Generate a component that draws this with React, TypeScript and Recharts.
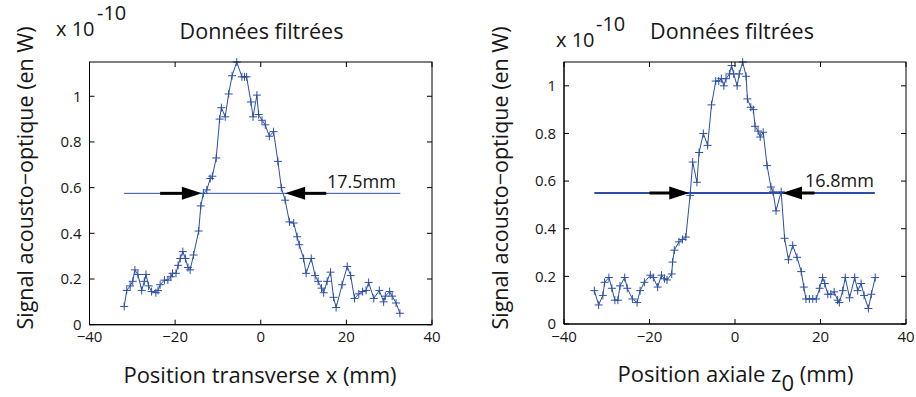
import React from 'react';
import { ComposedChart, Line, XAxis, YAxis, ReferenceLine, ReferenceDot } from 'recharts';

const BLUE = '#2c4fa5';
const FONT = '"Open Sans", "Noto Sans", sans-serif';
const TXT = '#161616';

const xTicks = [-40, -20, 0, 20, 40];
const yTicks = [0, 0.2, 0.4, 0.6, 0.8, 1];
const xDomain = [-40, 40];

const leftX = [-31.9, -31.3, -30.5, -29.9, -29.4, -28.7, -27.8, -27.2, -26.8, -26.2, -25.5, -24.5, -24.0, -23.5, -22.5, -21.7, -21.0, -20.6, -19.8, -19.3, -18.8, -18.2, -17.6, -17.0, -16.5, -15.7, -14.5, -14.0, -13.4, -12.6, -11.8, -11.3, -10.4, -9.6, -9.2, -8.3, -7.5, -6.7, -5.6, -4.4, -3.8, -3.3, -2.3, -1.8, -0.9, -0.5, 0.3, 1.05, 2.0, 3.0, 4.0, 4.8, 5.7, 6.7, 7.7, 8.5, 9.0, 10.0, 10.6, 11.8, 12.7, 13.4, 14.2, 14.7, 15.5, 16.3, 17.0, 17.6, 19.0, 20.2, 21.0, 21.9, 22.9, 23.8, 24.6, 25.2, 26.4, 27.7, 28.7, 29.1, 30.1, 30.7, 31.6, 32.5];
const leftY = [0.08, 0.15, 0.17, 0.19, 0.24, 0.22, 0.15, 0.19, 0.22, 0.17, 0.145, 0.14, 0.15, 0.175, 0.195, 0.195, 0.21, 0.225, 0.225, 0.26, 0.29, 0.32, 0.29, 0.25, 0.24, 0.305, 0.41, 0.52, 0.575, 0.59, 0.64, 0.65, 0.73, 0.9, 0.95, 0.91, 1.01, 1.09, 1.15, 1.085, 1.085, 1.085, 0.975, 0.91, 1.005, 0.92, 0.895, 0.875, 0.825, 0.845, 0.715, 0.6, 0.545, 0.45, 0.445, 0.385, 0.35, 0.29, 0.225, 0.29, 0.215, 0.19, 0.16, 0.14, 0.19, 0.23, 0.12, 0.075, 0.175, 0.255, 0.215, 0.115, 0.135, 0.145, 0.15, 0.185, 0.115, 0.15, 0.1, 0.125, 0.145, 0.125, 0.095, 0.05];

const rightX = [-32.9, -31.9, -30.9, -30.5, -29.5, -28.8, -28.1, -27.4, -26.9, -25.8, -25.2, -24.0, -22.9, -22.2, -21.2, -19.8, -19.1, -18.1, -17.2, -16.5, -15.9, -14.8, -14.6, -14.2, -13.1, -12.3, -11.5, -10.5, -9.9, -8.9, -8.4, -7.4, -6.4, -5.5, -4.5, -3.8, -3.2, -2.6, -2.1, -1.3, -0.8, -0.3, 0.5, 1.0, 1.8, 2.6, 2.9, 3.7, 4.3, 4.7, 5.4, 5.9, 6.6, 7.5, 8.4, 8.9, 9.6, 10.8, 11.6, 12.5, 13.5, 14.5, 15.5, 16.1, 16.6, 17.4, 18.2, 19.0, 19.8, 20.5, 21.0, 21.7, 22.4, 23.2, 24.0, 24.4, 25.2, 25.8, 26.8, 28.0, 28.7, 29.5, 30.2, 31.2, 31.9, 32.8];
const rightY = [0.14, 0.08, 0.12, 0.175, 0.195, 0.15, 0.1, 0.1, 0.16, 0.195, 0.15, 0.105, 0.09, 0.14, 0.175, 0.205, 0.195, 0.155, 0.205, 0.19, 0.185, 0.21, 0.26, 0.31, 0.345, 0.355, 0.365, 0.54, 0.68, 0.595, 0.72, 0.8, 0.75, 0.92, 1.02, 1.02, 1.03, 1.0, 1.03, 1.05, 1.085, 1.05, 1.0, 1.05, 1.1, 1.04, 0.945, 0.91, 0.9, 0.83, 0.81, 0.785, 0.805, 0.665, 0.575, 0.555, 0.475, 0.555, 0.36, 0.27, 0.33, 0.28, 0.22, 0.155, 0.105, 0.105, 0.105, 0.105, 0.15, 0.195, 0.17, 0.125, 0.125, 0.135, 0.1, 0.09, 0.14, 0.195, 0.11, 0.195, 0.14, 0.17, 0.12, 0.065, 0.125, 0.195];

// half-maximum level, line extent, arrows [tail, tip], width label
const leftLevel = 0.575;
const leftLineX = [-31.9, 32.6];
const leftArrowR = [-23.5, -13.75];
const leftArrowL = [15.3, 5.7];
const leftWidthLabel = '17.5mm';

const rightLevel = 0.55;
const rightLineX = [-32.9, 32.7];
const rightArrowR = [-20.0, -10.7];
const rightArrowL = [18.6, 11.0];
const rightWidthLabel = '16.8mm';

const titleText = 'Données filtrées';
const yLabelText = 'Signal acousto−optique (en W)';
const leftXLabel = 'Position transverse x (mm)';

const toPts = (xs: number[], ys: number[]) => xs.map((x, i) => ({ x, y: ys[i] }));
const fmtX = (v: number) => (v < 0 ? '−' + Math.abs(v) : String(v));

const PlusDot = (p: any) => {
  const { cx, cy } = p;
  if (cx == null || cy == null) return <g key={p.index} />;
  const s = 4;
  return (
    <path
      key={p.index}
      d={`M${cx - s},${cy}H${cx + s}M${cx},${cy - s}V${cy + s}`}
      stroke={BLUE}
      strokeWidth={1}
      fill="none"
    />
  );
};

const HEAD = 20;
const HALF = 6.5;
const headR = (p: any) => {
  const { cx, cy } = p;
  if (cx == null) return <g />;
  return <path d={`M${cx},${cy}L${cx - HEAD},${cy - HALF}L${cx - HEAD},${cy + HALF}Z`} fill="#000" />;
};
const headL = (p: any) => {
  const { cx, cy } = p;
  if (cx == null) return <g />;
  return <path d={`M${cx},${cy}L${cx + HEAD},${cy - HALF}L${cx + HEAD},${cy + HALF}Z`} fill="#000" />;
};

const TICK = 5;
const CHART_H = 397;
const TOP = 62;

type PanelProps = {
  left: number;
  width: number;
  yAxisWidth: number;
  rightMargin: number;
  xAxisHeight: number;
  yMax: number;
  xs: number[];
  ys: number[];
  level: number;
  lineX: number[];
  lineWidth: number;
  arrowR: number[];
  arrowL: number[];
};

const tickStyle = { fill: TXT, fontSize: 15, fontFamily: FONT };

// box with inward ticks (MATLAB style), laid out from the same panel geometry as the chart
const AxesBox = (pp: PanelProps) => {
  const l = pp.yAxisWidth;
  const r = pp.width - pp.rightMargin;
  const t = TOP;
  const b = CHART_H - pp.xAxisHeight;
  const [x0, x1] = xDomain;
  const px = (v: number) => l + ((v - x0) / (x1 - x0)) * (r - l);
  const py = (v: number) => b - (v / pp.yMax) * (b - t);
  let d = '';
  xTicks.forEach((v) => {
    const x = px(v);
    d += `M${x},${b}V${b - TICK}M${x},${t}V${t + TICK}`;
  });
  yTicks.forEach((v) => {
    const y = py(v);
    d += `M${l},${y}H${l + TICK}M${r},${y}H${r - TICK}`;
  });
  return (
    <svg
      width={pp.width}
      height={CHART_H}
      style={{ position: 'absolute', left: pp.left, top: 0, pointerEvents: 'none' }}
    >
      <rect x={l} y={t} width={r - l} height={b - t} fill="none" stroke="#000" strokeWidth={1} />
      <path d={d} stroke="#000" strokeWidth={1} fill="none" />
    </svg>
  );
};

const Panel = (pp: PanelProps) => {
  const data = toPts(pp.xs, pp.ys);
  const lvl = toPts(pp.lineX, [pp.level, pp.level]);
  const shaftEnd = (a: number[]) => a[0] + 0.6 * (a[1] - a[0]);
  return (
    <>
      <div style={{ position: 'absolute', left: pp.left, top: 0 }}>
        <ComposedChart
          width={pp.width}
          height={CHART_H}
          margin={{ top: TOP, right: pp.rightMargin, left: 0, bottom: 0 }}
        >
          <XAxis
            type="number"
            dataKey="x"
            domain={xDomain}
            ticks={xTicks}
            tickFormatter={fmtX}
            tickSize={0}
            tickMargin={7}
            height={pp.xAxisHeight}
            axisLine={{ stroke: '#000' }}
            tickLine={false}
            tick={tickStyle}
          />
          <YAxis
            type="number"
            domain={[0, pp.yMax]}
            ticks={yTicks}
            tickSize={0}
            tickMargin={8}
            width={pp.yAxisWidth}
            axisLine={{ stroke: '#000' }}
            tickLine={false}
            tick={tickStyle}
          />
          <Line
            data={lvl}
            dataKey="y"
            stroke={BLUE}
            strokeWidth={pp.lineWidth}
            dot={false}
            activeDot={false}
            isAnimationActive={false}
          />
          <ReferenceLine
            segment={[
              { x: pp.arrowR[0], y: pp.level },
              { x: shaftEnd(pp.arrowR), y: pp.level },
            ]}
            stroke="#000"
            strokeWidth={3}
          />
          <ReferenceLine
            segment={[
              { x: pp.arrowL[0], y: pp.level },
              { x: shaftEnd(pp.arrowL), y: pp.level },
            ]}
            stroke="#000"
            strokeWidth={3}
          />
          <ReferenceDot x={pp.arrowR[1]} y={pp.level} shape={headR} />
          <ReferenceDot x={pp.arrowL[1]} y={pp.level} shape={headL} />
          <Line
            data={data}
            dataKey="y"
            type="linear"
            stroke={BLUE}
            strokeWidth={1}
            dot={(p: any) => <PlusDot {...p} key={p.index} />}
            activeDot={false}
            isAnimationActive={false}
          />
        </ComposedChart>
      </div>
      <AxesBox {...pp} />
    </>
  );
};

// HTML text placed by its baseline (Open Sans: baseline ≈ 0.888em below top at line-height 1)
const T = (props: { x: number; y: number; size: number; center?: boolean; children: React.ReactNode }) => (
  <div
    style={{
      position: 'absolute',
      left: props.x,
      top: props.y - 0.888 * props.size,
      fontSize: props.size,
      lineHeight: 1,
      whiteSpace: 'nowrap',
      color: TXT,
      fontFamily: FONT,
      transform: props.center ? 'translateX(-50%)' : undefined,
    }}
  >
    {props.children}
  </div>
);

const VT = (props: { x: number; y: number; size: number; children: React.ReactNode }) => (
  <div
    style={{
      position: 'absolute',
      left: props.x - 0.388 * props.size,
      top: props.y,
      fontSize: props.size,
      lineHeight: 1,
      whiteSpace: 'nowrap',
      color: TXT,
      fontFamily: FONT,
      transform: 'translate(-50%, -50%) rotate(-90deg)',
    }}
  >
    {props.children}
  </div>
);

export default function App() {
  return (
    <div
      style={{
        position: 'absolute',
        left: 0,
        top: 0,
        width: 916,
        height: 397,
        background: '#fff',
      }}
    >
      <Panel
        left={0}
        width={458}
        yAxisWidth={89.5}
        rightMargin={26}
        xAxisHeight={72.3}
        yMax={1.15}
        xs={leftX}
        ys={leftY}
        level={leftLevel}
        lineX={leftLineX}
        lineWidth={1}
        arrowR={leftArrowR}
        arrowL={leftArrowL}
      />
      <Panel
        left={458}
        width={458}
        yAxisWidth={106}
        rightMargin={10}
        xAxisHeight={73}
        yMax={1.1}
        xs={rightX}
        ys={rightY}
        level={rightLevel}
        lineX={rightLineX}
        lineWidth={2}
        arrowR={rightArrowR}
        arrowL={rightArrowL}
      />
      {/* left panel texts */}
      <T x={261.5} y={39} size={21.5} center>{titleText}</T>
      <T x={56} y={37} size={20}>x 10</T>
      <T x={97} y={21} size={20}>-10</T>
      <T x={327} y={188} size={18}>{leftWidthLabel}</T>
      <T x={260} y={383} size={22} center>{leftXLabel}</T>
      <VT x={33} y={178} size={21.5}>{yLabelText}</VT>
      {/* right panel texts */}
      <T x={732} y={39} size={21.5} center>{titleText}</T>
      <T x={556} y={48} size={20}>x 10</T>
      <T x={596} y={32} size={20}>-10</T>
      <T x={805} y={186.5} size={18}>{rightWidthLabel}</T>
      <T x={735.5} y={382} size={22} center>
        Position axiale z<span style={{ position: 'relative', top: 9 }}>0</span> (mm)
      </T>
      <VT x={508} y={178} size={21.5}>{yLabelText}</VT>
    </div>
  );
}
